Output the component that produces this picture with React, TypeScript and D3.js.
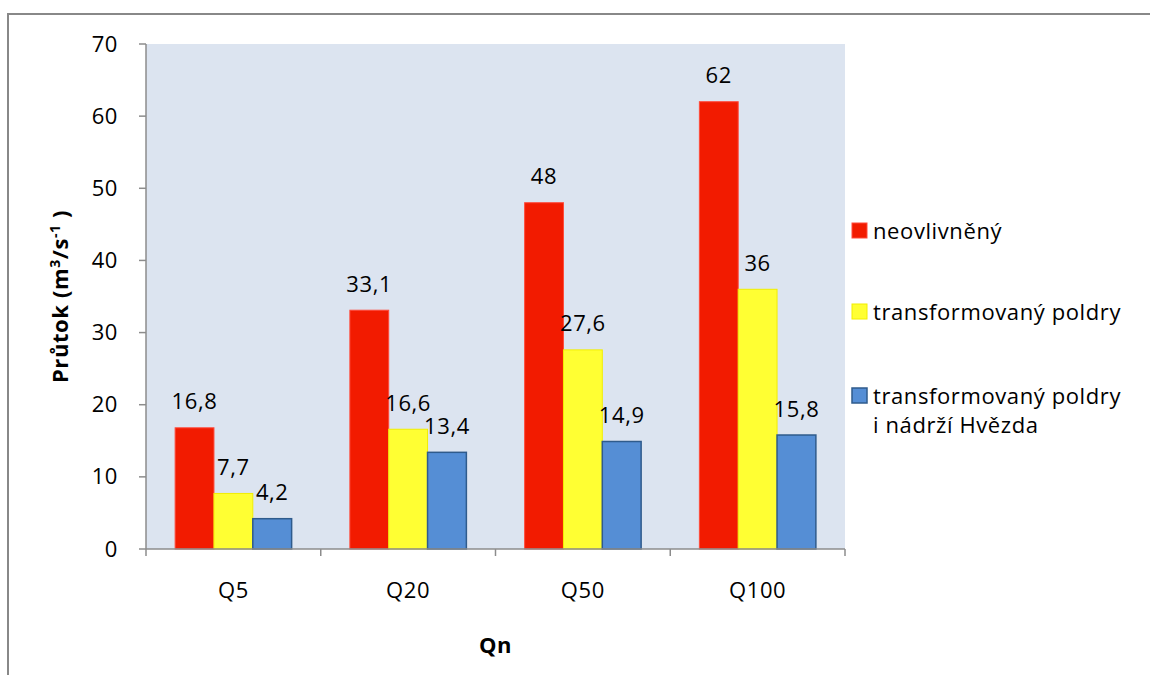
import React from "react";
import * as d3 from "d3";

// Flow values per return period, m3/s
const categories = ["Q5", "Q20", "Q50", "Q100"];
const seriesNames = [
  "neovlivněný",
  "transformovaný poldry",
  "transformovaný poldry i nádrží Hvězda",
];
const neovlivneny = [16.8, 33.1, 48, 62];
const poldry = [7.7, 16.6, 27.6, 36];
const poldryHvezda = [4.2, 13.4, 14.9, 15.8];
const valueLabels = [
  ["16,8", "33,1", "48", "62"],
  ["7,7", "16,6", "27,6", "36"],
  ["4,2", "13,4", "14,9", "15,8"],
];
const yTicks = [0, 10, 20, 30, 40, 50, 60, 70];

const seriesValues = [neovlivneny, poldry, poldryHvezda];
const fills = ["#F21B00", "#FFFF33", "#558ED5"];
const strokes = ["#FF4A3A", "#F2EE00", "#2F5B8C"];

const W = 1150;
const H = 675;
const FONT = "'Open Sans', Lato, sans-serif";
const FS = 22;
const LS = 0.6;

export default function App() {
  const plot = { left: 146, right: 845, top: 44, bottom: 549 };

  const x = d3
    .scaleBand<string>()
    .domain(categories)
    .range([plot.left, plot.right])
    .paddingInner(0)
    .paddingOuter(0);

  const y = d3.scaleLinear().domain([0, 70]).range([plot.bottom, plot.top]);

  // 150% gap width: 3 bars + 1.5 bar widths of gap per category
  const barW = x.bandwidth() / 4.5;
  const groupOffset = (x.bandwidth() - 3 * barW) / 2;

  const xBoundaries = d3.range(categories.length + 1).map(
    (i) => plot.left + i * x.step()
  );

  const legendX = 852;
  const legendRows = [
    { y: 231, lines: [seriesNames[0]] },
    { y: 312, lines: [seriesNames[1]] },
    { y: 396, lines: ["transformovaný poldry", "i nádrží Hvězda"] },
  ];

  return (
    <svg
      width={W}
      height={H}
      viewBox={`0 0 ${W} ${H}`}
      style={{ position: "absolute", left: 0, top: 0, background: "#fff" }}
      fontFamily={FONT}
      letterSpacing={LS}
    >
      {/* chart area frame */}
      <rect x={8} y={14} width={W + 20} height={H + 20} fill="#fff" stroke="#888" strokeWidth={2} />

      {/* plot area background */}
      <rect
        x={plot.left}
        y={plot.top}
        width={plot.right - plot.left}
        height={plot.bottom - plot.top}
        fill="#DCE4F0"
      />

      {/* bars */}
      {seriesValues.map((vals, s) =>
        vals.map((v, i) => {
          const bx = (x(categories[i]) as number) + groupOffset + s * barW;
          const by = y(v);
          return (
            <rect
              key={`b-${s}-${i}`}
              x={bx}
              y={by}
              width={barW}
              height={plot.bottom - by}
              fill={fills[s]}
              stroke={strokes[s]}
              strokeWidth={s === 2 ? 1.5 : 1}
            />
          );
        })
      )}

      {/* value labels */}
      {seriesValues.map((vals, s) =>
        vals.map((v, i) => {
          const cx = (x(categories[i]) as number) + groupOffset + s * barW + barW / 2;
          return (
            <text
              key={`l-${s}-${i}`}
              x={cx}
              y={y(v) - 18.5}
              textAnchor="middle"
              fontSize={FS}
              fill="#000"
            >
              {valueLabels[s][i]}
            </text>
          );
        })
      )}

      {/* y axis */}
      <line x1={plot.left} x2={plot.left} y1={plot.top} y2={plot.bottom} stroke="#8C8C8C" strokeWidth={1.5} />
      {yTicks.map((t) => (
        <g key={`yt-${t}`}>
          <line x1={plot.left - 7} x2={plot.left} y1={y(t)} y2={y(t)} stroke="#8C8C8C" strokeWidth={1.5} />
          <text x={118} y={y(t) + 7.5} textAnchor="end" fontSize={FS} fill="#000">
            {t}
          </text>
        </g>
      ))}

      {/* x axis */}
      <line x1={plot.left} x2={plot.right} y1={plot.bottom} y2={plot.bottom} stroke="#8C8C8C" strokeWidth={1.5} />
      {xBoundaries.map((bx, i) => (
        <line key={`xt-${i}`} x1={bx} x2={bx} y1={plot.bottom} y2={plot.bottom + 7} stroke="#8C8C8C" strokeWidth={1.5} />
      ))}
      {categories.map((c) => (
        <text
          key={`xl-${c}`}
          x={(x(c) as number) + x.bandwidth() / 2}
          y={598}
          textAnchor="middle"
          fontSize={FS}
          fill="#000"
        >
          {c}
        </text>
      ))}

      {/* axis titles */}
      <text x={(plot.left + plot.right) / 2} y={653} textAnchor="middle" fontSize={FS} fontWeight="bold" fill="#000">
        Qn
      </text>
      <text
        transform={`translate(68, ${(plot.top + plot.bottom) / 2}) rotate(-90)`}
        textAnchor="middle"
        fontSize={FS}
        fontWeight="bold"
        fill="#000"
      >
        Průtok (m
        <tspan fontSize={14} dy={-8}>3</tspan>
        <tspan dy={8}>/s</tspan>
        <tspan fontSize={14} dy={-8}>-1</tspan>
        <tspan dy={8}> )</tspan>
      </text>

      {/* legend */}
      {legendRows.map((row, s) => (
        <g key={`lg-${s}`}>
          <rect
            x={legendX}
            y={row.y - 8}
            width={15}
            height={15}
            fill={fills[s]}
            stroke={strokes[s]}
            strokeWidth={s === 2 ? 1.5 : 1}
          />
          {row.lines.map((ln, k) => (
            <text key={k} x={873} y={row.y + 8 + k * 29} fontSize={FS} fill="#000">
              {ln}
            </text>
          ))}
        </g>
      ))}
    </svg>
  );
}
